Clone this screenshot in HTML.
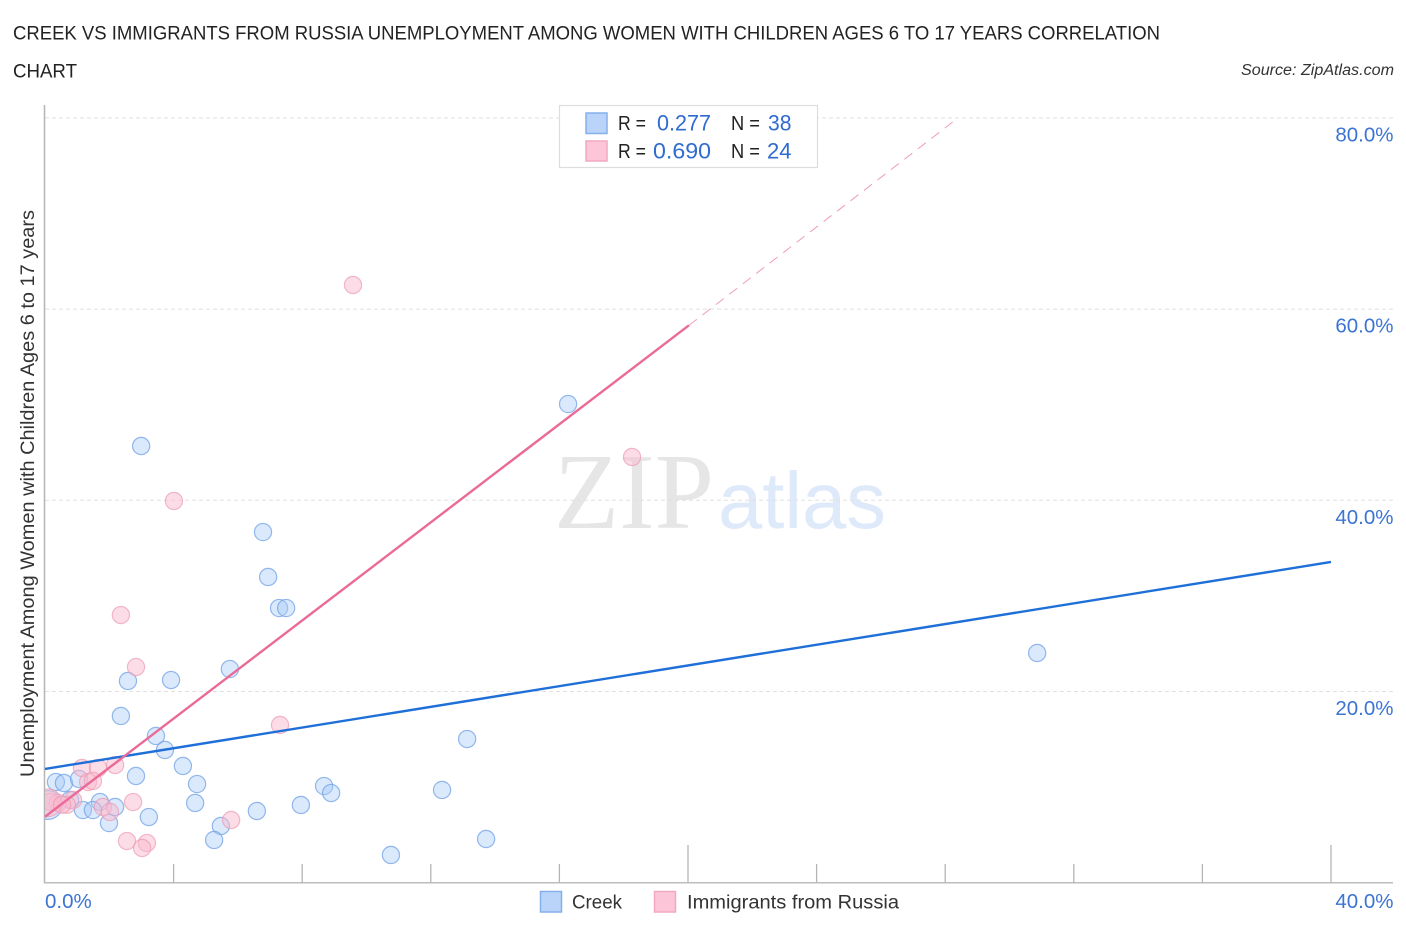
<!DOCTYPE html>
<html lang="en">
<head>
<meta charset="utf-8">
<title>Creek vs Immigrants from Russia chart</title>
<style>
html,body{margin:0;padding:0;background:#fff;width:1406px;height:930px;overflow:hidden}
svg{display:block}
text{font-family:"Liberation Sans",sans-serif}
</style>
</head>
<body>
<svg id="chart" width="1406" height="930" viewBox="0 0 1406 930" xmlns="http://www.w3.org/2000/svg">
  <defs><clipPath id="plot-clip"><rect x="45" y="100" width="1360" height="783"/></clipPath></defs>
  <rect width="1406" height="930" fill="#fff"/>
  <text x="13" y="39.5" font-size="19" fill="#222" textLength="1147" lengthAdjust="spacingAndGlyphs">CREEK VS IMMIGRANTS FROM RUSSIA UNEMPLOYMENT AMONG WOMEN WITH CHILDREN AGES 6 TO 17 YEARS CORRELATION</text>
  <text x="13" y="77.5" font-size="19" fill="#222" textLength="64" lengthAdjust="spacingAndGlyphs">CHART</text>
  <text x="1241" y="75" font-size="15.5" font-style="italic" fill="#333" textLength="153" lengthAdjust="spacingAndGlyphs">Source: ZipAtlas.com</text>
  <text x="554" y="528" font-size="108" fill="#e6e6e6" textLength="160" lengthAdjust="spacingAndGlyphs" style="font-family:'Liberation Serif',serif">ZIP</text>
  <text x="718" y="528" font-size="80" fill="#deeafa" textLength="168" lengthAdjust="spacingAndGlyphs">atlas</text>
  <g id="grid"></g>
  <g id="axes"></g>
  <g id="points" clip-path="url(#plot-clip)"></g>
  <g id="trends"></g>
  <g id="labels"></g>
  <text transform="translate(34,777) rotate(-90)" x="0" y="0" font-size="19" fill="#333" textLength="567" lengthAdjust="spacingAndGlyphs">Unemployment Among Women with Children Ages 6 to 17 years</text>

  <g>
    <rect x="559.5" y="105.5" width="258" height="62" fill="#fff" stroke="#ddd" stroke-width="1.2"/>
    <rect x="586" y="113" width="21" height="20.5" fill="#b9d4f8" stroke="#86b0ec" stroke-width="1.5"/>
    <rect x="586" y="141" width="21" height="20" fill="#fcc5d8" stroke="#f2a9c0" stroke-width="1.5"/>
    <text x="618" y="130" font-size="20" fill="#222" textLength="28" lengthAdjust="spacingAndGlyphs">R =</text>
    <text x="657" y="130.5" font-size="22" fill="#2f6bd0" textLength="54" lengthAdjust="spacingAndGlyphs">0.277</text>
    <text x="731" y="130" font-size="20" fill="#222" textLength="29" lengthAdjust="spacingAndGlyphs">N =</text>
    <text x="768" y="130.5" font-size="22" fill="#2f6bd0" textLength="23.5" lengthAdjust="spacingAndGlyphs">38</text>
    <text x="618" y="158" font-size="20" fill="#222" textLength="28" lengthAdjust="spacingAndGlyphs">R =</text>
    <text x="653" y="158.5" font-size="22" fill="#2f6bd0" textLength="58" lengthAdjust="spacingAndGlyphs">0.690</text>
    <text x="731" y="158" font-size="20" fill="#222" textLength="29" lengthAdjust="spacingAndGlyphs">N =</text>
    <text x="767" y="158.5" font-size="22" fill="#2f6bd0" textLength="24.5" lengthAdjust="spacingAndGlyphs">24</text>
  </g>

  <g>
    <rect x="540.5" y="891.5" width="21" height="20.5" fill="#b9d4f8" stroke="#86b0ec" stroke-width="1.5"/>
    <text x="572" y="908.5" font-size="19" fill="#333" textLength="50" lengthAdjust="spacingAndGlyphs">Creek</text>
    <rect x="654.5" y="891.5" width="21" height="20.5" fill="#fcc5d8" stroke="#f2a9c0" stroke-width="1.5"/>
    <text x="687" y="908.5" font-size="19" fill="#333" textLength="212" lengthAdjust="spacingAndGlyphs">Immigrants from Russia</text>
  </g>
</svg>

<script>
const creekX = [16.27,2.99,6.78,6.94,7.28,7.50,5.75,3.92,2.58,30.86,2.36,3.45,3.73,13.13,4.29,2.83,4.73,8.68,8.90,12.35,4.67,7.96,6.59,3.23,5.47,5.26,10.76,13.72,0.34,0.59,1.06,1.71,1.18,1.49,2.18,1.99,0.78,0.09];
const creekY = [50.07,45.68,36.68,31.98,28.73,28.73,22.35,21.20,21.10,24.03,17.44,15.35,13.88,15.03,12.21,11.16,10.32,10.11,9.38,9.70,8.34,8.13,7.50,6.87,5.93,4.47,2.90,4.57,10.53,10.43,10.85,8.44,7.60,7.60,7.92,6.24,8.65,8.13];
const creekWeight = [1,1,1,1,1,1,1,1,1,1,1,1,1,1,1,1,1,1,1,1,1,1,1,1,1,1,1,1,1,1,1,1,1,1,1,1,1,2.8];
const russiaX = [9.58,18.26,4.01,2.36,2.83,7.31,2.18,1.15,1.65,1.34,1.49,2.74,5.79,2.55,3.17,3.02,1.80,2.02,0.87,0.40,0.16,0.68,0.09,0.53];
const russiaY = [62.52,44.53,39.93,28.00,22.56,16.50,12.31,12.00,12.00,10.53,10.64,8.44,6.56,4.36,4.15,3.63,7.92,7.40,8.65,8.36,8.46,8.15,8.36,8.15];
const russiaWeight = [1,1,1,1,1,1,1,1,1,1,1,1,1,1,1,1,1,1,1,1,1,1,2.6,1];
const creekTrendX = [0,40];
const creekTrendY = [11.9,33.55];
const russiaTrendX = [0,20.03];
const russiaTrendY = [6.9,58.3];
const russiaDashX = [20.03,28.4];
const russiaDashY = [58.3,80];
const yTicks = [20,40,60,80];
const yTickLabels = ["20.0%","40.0%","60.0%","80.0%"];
const xTicks = [4,8,12,16,20,24,28,32,36,40];
const xMajorTicks = [20,40];
const xEndLabels = ["0.0%","40.0%"];

const NS = "http://www.w3.org/2000/svg";
function xScale(v){ return 45 + v * 32.15; }
function yScale(v){ return 882.7 - v * 9.56; }
function make(tag, parent, attrs){
  const el = document.createElementNS(NS, tag);
  for (const k in attrs) el.setAttribute(k, attrs[k]);
  parent.appendChild(el);
  return el;
}
const gridG = document.getElementById("grid");
const axesG = document.getElementById("axes");
const pointsG = document.getElementById("points");
const trendsG = document.getElementById("trends");
const labelsG = document.getElementById("labels");

yTicks.forEach(function(t, i){
  const line = make("line", gridG, {x1:45, x2:1393, y1:yScale(t), y2:yScale(t), stroke:"#e0e0e0", "stroke-width":1, "stroke-dasharray":"4 3"});
  
  
  const lab = make("text", labelsG, {x:1393.5, y:yScale(t)+23.5, "font-size":20.5, fill:"#3b74d3", "text-anchor":"end"});
  lab.textContent = yTickLabels[i];
  
  
});

const yAxisLine = make("line", axesG, {x1:44.5, x2:44.5, y1:105, y2:883.5, stroke:"#b5b5b5", "stroke-width":1.5});


const xAxisLine = make("line", axesG, {x1:44, x2:1393, y1:882.8, y2:882.8, stroke:"#bdbdbd", "stroke-width":1.5});



xTicks.forEach(function(t){
  const top = xMajorTicks.indexOf(t) >= 0 ? 845 : 864;
  const tick = make("line", axesG, {x1:xScale(t), x2:xScale(t), y1:top, y2:883, stroke:"#b5b5b5", "stroke-width":1.3});
  
  
});

const xLabelStart = make("text", labelsG, {x:45, y:908, "font-size":20.5, fill:"#3b74d3"});
xLabelStart.textContent = xEndLabels[0];


const xLabelEnd = make("text", labelsG, {x:1393.5, y:908, "font-size":20.5, fill:"#3b74d3", "text-anchor":"end"});
xLabelEnd.textContent = xEndLabels[1];



creekX.forEach(function(v, i){
  const c = make("circle", pointsG, {cx:xScale(v), cy:yScale(creekY[i]), r:8.6*Math.sqrt(creekWeight[i]), fill:"#a8caf5", "fill-opacity":0.42, stroke:"#6c9ee6", "stroke-opacity":0.72, "stroke-width":1.2});
  
  
});
russiaX.forEach(function(v, i){
  const c = make("circle", pointsG, {cx:xScale(v), cy:yScale(russiaY[i]), r:8.6*Math.sqrt(russiaWeight[i]), fill:"#f9b9cd", "fill-opacity":0.5, stroke:"#ec9ab3", "stroke-opacity":0.68, "stroke-width":1.2});
  
  
});

const creekLine = make("line", trendsG, {x1:xScale(creekTrendX[0]), y1:yScale(creekTrendY[0]), x2:xScale(creekTrendX[1]), y2:yScale(creekTrendY[1]), stroke:"#1f6fd8", "stroke-width":2.4});


const russiaLine = make("line", trendsG, {x1:xScale(russiaTrendX[0]), y1:yScale(russiaTrendY[0]), x2:xScale(russiaTrendX[1]), y2:yScale(russiaTrendY[1]), stroke:"#ea6a98", "stroke-width":2.4});


const russiaDash = make("line", trendsG, {x1:xScale(russiaDashX[0]), y1:yScale(russiaDashY[0]), x2:xScale(russiaDashX[1]), y2:yScale(russiaDashY[1]), stroke:"#ee9db8", "stroke-width":1, "stroke-dasharray":"10 7"});


</script>
</body>
</html>
